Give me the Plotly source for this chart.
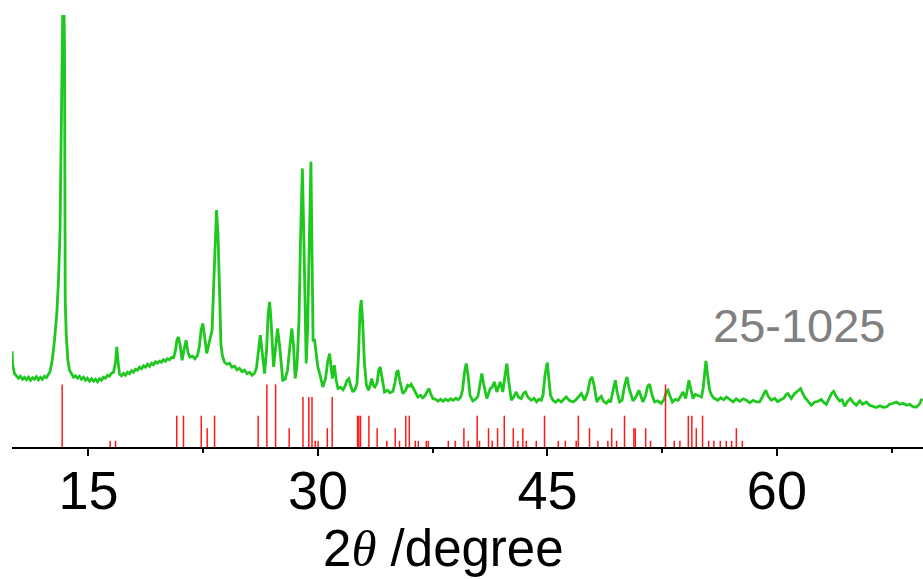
import plotly.graph_objects as go

# --- measured XRD pattern (2theta in degrees, intensity in arbitrary units) ---
two_theta = [
    10.00, 10.05, 10.16, 10.29, 10.42, 10.55, 10.69, 10.82, 10.95, 11.08, 11.21, 11.34, 11.47, 11.60, 11.73,
    11.86, 11.99, 12.12, 12.25, 12.38, 12.48, 12.63, 12.78, 12.93, 13.04, 13.14, 13.22, 13.27, 13.35, 13.43,
    13.45, 13.48, 13.54, 13.65, 13.76, 13.89, 14.02, 14.15, 14.28, 14.41, 14.54, 14.67, 14.80, 14.93, 15.07,
    15.20, 15.33, 15.46, 15.59, 15.72, 15.85, 15.98, 16.11, 16.24, 16.37, 16.50, 16.63, 16.77, 16.85, 16.94,
    17.03, 17.16, 17.29, 17.42, 17.55, 17.68, 17.81, 17.94, 18.07, 18.20, 18.33, 18.47, 18.60, 18.73, 18.86,
    18.99, 19.12, 19.25, 19.38, 19.51, 19.64, 19.77, 19.90, 20.03, 20.16, 20.30, 20.43, 20.56, 20.69, 20.78,
    20.88, 20.99, 21.12, 21.24, 21.38, 21.50, 21.63, 21.80, 21.96, 22.13, 22.26, 22.36, 22.47, 22.58, 22.73,
    22.85, 22.98, 23.08, 23.17, 23.27, 23.37, 23.47, 23.56, 23.66, 23.76, 23.89, 24.06, 24.22, 24.38, 24.55,
    24.71, 24.87, 25.04, 25.20, 25.36, 25.53, 25.69, 25.85, 25.98, 26.11, 26.23, 26.34, 26.51, 26.64, 26.74,
    26.84, 26.93, 27.10, 27.23, 27.36, 27.49, 27.62, 27.70, 27.85, 28.01, 28.14, 28.29, 28.40, 28.51, 28.63,
    28.76, 28.86, 28.98, 29.08, 29.16, 29.23, 29.32, 29.42, 29.54, 29.61, 29.68, 29.78, 29.88, 29.99, 30.14,
    30.32, 30.50, 30.63, 30.76, 30.86, 30.94, 31.07, 31.19, 31.31, 31.48, 31.64, 31.77, 31.90, 32.02, 32.13,
    32.28, 32.43, 32.55, 32.65, 32.75, 32.83, 32.91, 33.04, 33.17, 33.31, 33.42, 33.52, 33.61, 33.72, 33.86,
    33.97, 34.07, 34.18, 34.35, 34.55, 34.71, 34.90, 35.04, 35.14, 35.23, 35.34, 35.55, 35.73, 35.86, 35.99,
    36.09, 36.20, 36.35, 36.53, 36.71, 36.84, 36.97, 37.13, 37.25, 37.36, 37.51, 37.69, 37.85, 38.01, 38.18,
    38.34, 38.51, 38.67, 38.83, 39.00, 39.16, 39.32, 39.45, 39.58, 39.69, 39.81, 39.94, 40.12, 40.30, 40.46,
    40.59, 40.71, 40.82, 41.04, 41.26, 41.38, 41.54, 41.69, 41.91, 42.08, 42.23, 42.35, 42.46, 42.64, 42.79,
    42.96, 43.11, 43.29, 43.44, 43.57, 43.73, 43.94, 44.12, 44.29, 44.45, 44.60, 44.71, 44.84, 44.99, 45.11,
    45.20, 45.36, 45.53, 45.70, 45.91, 46.06, 46.23, 46.42, 46.67, 46.84, 47.01, 47.22, 47.43, 47.63, 47.78,
    47.91, 48.05, 48.23, 48.38, 48.52, 48.67, 48.85, 49.00, 49.13, 49.29, 49.44, 49.56, 49.72, 49.88, 50.05,
    50.20, 50.34, 50.59, 50.77, 50.98, 51.09, 51.24, 51.42, 51.55, 51.68, 51.84, 52.01, 52.20, 52.44, 52.63,
    52.76, 52.88, 52.99, 53.17, 53.35, 53.54, 53.71, 53.86, 54.04, 54.17, 54.25, 54.36, 54.52, 54.66, 54.84,
    55.07, 55.18, 55.28, 55.36, 55.47, 55.60, 55.77, 55.93, 56.13, 56.32, 56.52, 56.70, 56.91, 57.13, 57.34,
    57.57, 57.80, 58.01, 58.22, 58.45, 58.66, 58.87, 59.07, 59.27, 59.43, 59.64, 59.86, 60.05, 60.25, 60.45,
    60.61, 60.72, 60.94, 61.16, 61.35, 61.55, 61.68, 61.81, 62.04, 62.25, 62.46, 62.69, 62.90, 63.05, 63.23,
    63.41, 63.58, 63.71, 63.87, 64.10, 64.26, 64.43, 64.62, 64.80, 64.98, 65.19, 65.41, 65.60, 65.85, 66.06,
    66.29, 66.50, 66.72, 66.95, 67.16, 67.37, 67.60, 67.81, 68.03, 68.26, 68.47, 68.68, 68.91, 69.12, 69.31,
    69.49,
]
intensity = [
    95.7, 81.7, 73.4, 70.7, 68.7, 70.7, 67.7, 69.7, 67.2, 69.7, 66.7, 69.2, 67.7, 70.2, 67.2,
    69.7, 67.7, 70.7, 69.2, 72.7, 75.0, 86.7, 106.7, 133.7, 166.7, 216.7, 313.7, 406.7, 480.0, 406.7,
    313.7, 146.7, 113.7, 86.7, 76.7, 72.7, 69.7, 71.2, 68.7, 70.7, 67.7, 69.7, 66.7, 68.7, 65.7,
    68.2, 65.7, 67.7, 65.2, 68.2, 66.7, 69.7, 68.7, 71.7, 70.7, 73.7, 74.7, 84.7, 100.0, 84.7,
    72.7, 71.2, 73.7, 71.7, 74.7, 73.2, 76.2, 74.7, 77.7, 76.7, 79.7, 78.2, 81.2, 79.7, 82.7,
    80.7, 83.7, 82.2, 85.2, 83.7, 85.7, 84.7, 87.2, 85.7, 88.2, 87.2, 89.7, 89.2, 96.7, 106.7,
    110.0, 101.7, 86.7, 96.7, 106.7, 94.7, 89.7, 90.7, 88.2, 91.7, 101.7, 116.7, 123.4, 111.7, 93.4,
    101.7, 111.7, 116.7, 156.7, 206.7, 236.7, 211.7, 146.7, 101.7, 90.7, 84.7, 82.7, 83.7, 79.7, 80.7,
    77.2, 78.7, 75.2, 76.7, 73.2, 74.7, 71.7, 73.7, 78.7, 96.7, 111.7, 96.7, 73.4, 96.7, 131.7,
    145.0, 126.7, 80.0, 101.7, 118.4, 101.7, 74.7, 66.7, 67.7, 76.7, 96.7, 118.4, 101.7, 68.4, 81.7,
    126.7, 206.7, 278.4, 206.7, 116.7, 83.4, 116.7, 206.7, 285.0, 196.7, 106.7, 106.7, 91.7, 80.0, 71.7,
    60.0, 68.7, 84.7, 93.4, 81.7, 68.4, 81.7, 66.7, 58.4, 59.7, 57.2, 60.7, 66.7, 68.4, 61.7,
    55.0, 57.7, 63.4, 91.7, 136.7, 146.7, 128.7, 83.4, 61.7, 56.7, 63.7, 68.4, 61.7, 60.0, 63.7,
    76.7, 80.0, 68.7, 55.0, 56.7, 54.2, 55.7, 64.7, 74.7, 76.7, 66.7, 53.4, 56.7, 61.7, 60.7,
    62.7, 59.7, 54.7, 50.0, 51.7, 49.2, 50.7, 54.7, 58.4, 53.7, 48.4, 47.7, 45.7, 47.7, 45.7,
    47.7, 46.2, 48.2, 46.7, 48.7, 47.2, 49.7, 56.7, 74.7, 83.4, 71.7, 51.7, 46.0, 47.7, 50.7,
    63.7, 73.4, 63.7, 48.4, 58.4, 59.7, 65.0, 55.0, 65.0, 55.0, 71.7, 83.4, 66.7, 46.7, 49.7,
    55.0, 49.7, 48.4, 53.7, 55.0, 49.7, 46.7, 48.7, 45.2, 47.7, 46.7, 51.7, 71.7, 84.4, 68.7,
    51.7, 46.7, 44.7, 47.2, 45.0, 47.7, 50.0, 46.7, 45.0, 46.7, 49.7, 53.4, 46.7, 54.7, 66.7,
    70.0, 61.7, 45.0, 48.7, 50.7, 45.7, 43.7, 46.7, 44.7, 56.7, 66.7, 54.7, 45.0, 46.7, 61.7,
    70.0, 58.7, 46.0, 49.7, 56.7, 50.7, 45.0, 51.7, 60.7, 62.7, 51.7, 45.0, 46.2, 43.4, 47.7,
    54.7, 56.7, 51.7, 45.0, 47.7, 46.7, 50.7, 55.0, 48.4, 58.7, 66.7, 58.7, 48.4, 52.7, 51.7,
    50.0, 58.7, 76.7, 86.0, 71.7, 56.7, 50.7, 48.4, 46.7, 49.2, 47.2, 50.0, 47.7, 45.0, 48.2,
    45.7, 48.2, 46.7, 44.2, 46.7, 45.0, 45.0, 50.7, 56.7, 50.7, 46.7, 48.7, 45.2, 47.2, 48.7,
    52.7, 53.4, 48.4, 53.4, 55.7, 58.4, 53.7, 50.0, 45.7, 41.7, 44.7, 45.7, 47.4, 44.7, 42.7,
    48.7, 53.7, 55.7, 50.7, 46.0, 47.2, 40.7, 45.7, 48.4, 44.7, 41.7, 46.0, 42.7, 45.0, 41.7,
    40.7, 39.4, 41.2, 39.7, 40.0, 42.7, 43.7, 45.0, 42.7, 43.7, 41.7, 42.7, 40.2, 40.0, 42.7,
    48.4,
]

# --- reference card 25-1025 (2theta, relative intensity %) ---
ref_two_theta = [
    13.28, 16.42, 16.77, 20.77, 21.21, 22.37, 22.76, 23.24, 26.09, 26.66, 27.23, 28.12, 29.02, 29.40, 29.61,
    29.82, 30.01, 30.61, 30.93, 32.59, 32.67, 32.78, 33.33, 33.87, 34.50, 35.05, 35.33, 35.74, 35.97, 36.36,
    36.56, 37.08, 37.21, 38.52, 38.97, 39.54, 39.82, 40.41, 40.56, 41.15, 41.39, 41.74, 42.18, 42.77, 43.07,
    43.39, 43.62, 44.27, 44.81, 45.71, 46.17, 46.88, 47.02, 47.75, 48.30, 48.95, 49.20, 49.52, 50.04, 50.65,
    50.74, 51.42, 51.74, 52.72, 53.29, 53.66, 54.21, 54.44, 54.73, 55.14, 55.54, 55.88, 56.30, 56.69, 57.04,
    57.35, 57.74,
]
ref_intensity = [
    100, 10, 10, 50, 50, 50, 30, 50, 50, 100, 100, 30, 80, 80, 80,
    10, 10, 30, 80, 50, 50, 50, 50, 30, 10, 30, 10, 50, 50, 10,
    10, 10, 10, 10, 10, 30, 10, 50, 10, 30, 10, 30, 50, 30, 10,
    30, 10, 10, 50, 10, 10, 10, 50, 30, 10, 10, 30, 10, 50, 30,
    30, 30, 10, 100, 10, 10, 50, 50, 30, 50, 10, 10, 10, 10, 10,
    30, 10,
]

x_ticks = [15, 30, 45, 60]
minor_ticks = [22.5, 37.5, 52.5, 67.5]
card_label = "25-1025"
x_title = "2<span style=\"font-family:'Liberation Serif';font-style:italic\">θ</span> /degree"

# build stick segments
stick_x, stick_y = [], []
for t, i in zip(ref_two_theta, ref_intensity):
    stick_x += [t, t, None]
    stick_y += [0, i, None]

fig = go.Figure()
fig.add_trace(go.Scatter(
    x=stick_x, y=stick_y, mode="lines", yaxis="y2",
    line=dict(color="#ff1a1a", width=1.5), hoverinfo="skip", showlegend=False,
))
fig.add_trace(go.Scatter(
    x=two_theta, y=intensity, mode="lines",
    line=dict(color="#1ec81e", width=2.8), showlegend=False,
))

fig.add_annotation(
    x=61.45, y=121, xref="x", yref="y", text=card_label, showarrow=False,
    font=dict(family="Liberation Sans, Arial", size=47, color="#808080"),
    xanchor="center", yanchor="middle",
)
# axis title
fig.add_annotation(
    x=38.2, y=-0.235, xref="x", yref="paper", text=x_title, showarrow=False,
    font=dict(family="Liberation Sans, Arial", size=51, color="black"),
    xanchor="center", yanchor="middle",
)

fig.update_layout(
    width=923, height=579,
    margin=dict(l=12, r=0, t=15, b=132),
    paper_bgcolor="white", plot_bgcolor="white",
    font=dict(family="Liberation Sans, Arial", color="black"),
    xaxis=dict(
        range=[10, 69.55], tickvals=x_ticks, ticktext=[str(v) for v in x_ticks],
        ticks="outside", ticklen=7, tickwidth=2, tickcolor="black",
        showline=True, linecolor="black", linewidth=2, mirror=False,
        showgrid=False, zeroline=False,
        tickfont=dict(size=54, color="black"), ticklabelstandoff=-12,
        minor=dict(tickvals=minor_ticks, ticks="outside", ticklen=4,
                   tickwidth=2, tickcolor="black", showgrid=False),
    ),
    yaxis=dict(range=[0, 431.7], visible=False, showgrid=False, zeroline=False),
    yaxis2=dict(range=[0, 690], overlaying="y", visible=False, showgrid=False, zeroline=False),
)

fig.write_html("out.html")
